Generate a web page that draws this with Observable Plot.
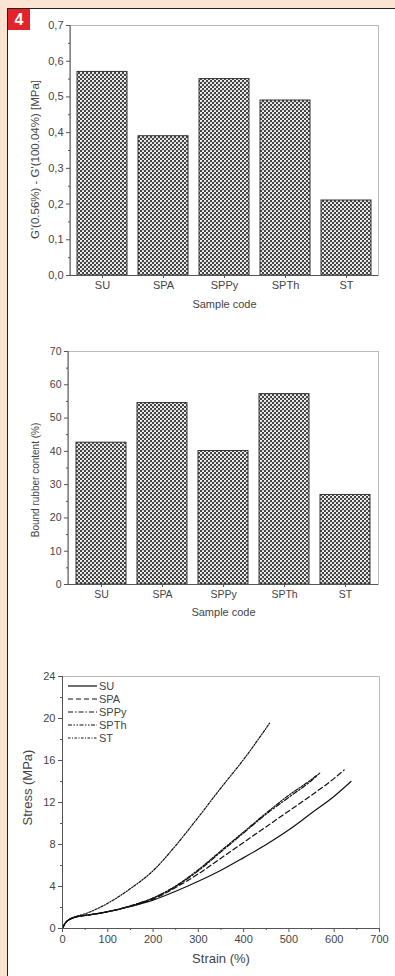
<!DOCTYPE html>
<html><head><meta charset="utf-8">
<script src="https://cdn.jsdelivr.net/npm/d3@7"></script>
<script src="https://cdn.jsdelivr.net/npm/@observablehq/plot@0.6"></script>
<style>
html,body{margin:0;padding:0;}
body{width:395px;height:976px;background:#fce4d2;position:relative;overflow:hidden;font-family:"Liberation Sans",Arial,sans-serif;}
#panel{position:absolute;left:7px;top:8px;right:0;bottom:0;background:#fff;border-top:1.5px solid #222;border-left:1.5px solid #222;}
#badge{position:absolute;left:8px;top:9px;width:22px;height:21px;background:#e3232b;color:#fff;font:bold 16px "Liberation Sans",Arial,sans-serif;text-align:center;line-height:21px;}
.chart{position:absolute;left:0;}
#legend{position:absolute;left:0;top:640px;}
</style></head><body>
<div id="panel"></div>
<div id="badge">4</div>
<svg width="0" height="0" style="position:absolute"><defs>
<pattern id="hatch" patternUnits="userSpaceOnUse" width="4" height="4">
<rect width="4" height="4" fill="#444"/>
<circle cx="1" cy="1" r="1.08" fill="#fff"/>
<circle cx="3" cy="3" r="1.08" fill="#fff"/>
</pattern></defs></svg>
<div id="c1" class="chart" style="top:0"></div>
<div id="c2" class="chart" style="top:320px"></div>
<div id="c3" class="chart" style="top:640px"></div>
<svg id="legend" width="200" height="120"></svg>
<script>
// ---------- data ----------
const categories = ["SU", "SPA", "SPPy", "SPTh", "ST"];
const modulusDrop = [0.57, 0.39, 0.55, 0.49, 0.21];
const boundRubber = [42.6, 54.5, 40.1, 57.2, 26.9];

const y1Ticks = [0, 0.1, 0.2, 0.3, 0.4, 0.5, 0.6, 0.7];
const y1Minor = [0.05, 0.15, 0.25, 0.35, 0.45, 0.55, 0.65];
const y2Ticks = [0, 10, 20, 30, 40, 50, 60, 70];
const y2Minor = [5, 15, 25, 35, 45, 55, 65];
const x3Ticks = [0, 100, 200, 300, 400, 500, 600, 700];
const x3Minor = [50, 150, 250, 350, 450, 550, 650];
const y3Ticks = [0, 4, 8, 12, 16, 20, 24];
const y3Minor = [2, 6, 10, 14, 18, 22];

const suStrain = [0, 5, 10, 20, 30, 50, 75, 100, 150, 200, 250, 300, 350, 400, 450, 500, 550, 600, 637];
const suStress = [0, 0.45, 0.7, 0.95, 1.1, 1.25, 1.4, 1.6, 2.1, 2.7, 3.55, 4.5, 5.55, 6.75, 8.0, 9.4, 11.0, 12.6, 14.0];
const spaStrain = [0, 5, 10, 20, 30, 50, 75, 100, 150, 200, 250, 300, 350, 400, 450, 500, 550, 600, 622];
const spaStress = [0, 0.45, 0.7, 0.95, 1.1, 1.25, 1.4, 1.6, 2.1, 2.8, 3.9, 5.2, 6.7, 8.2, 9.7, 11.2, 12.7, 14.3, 15.1];
const sppyStrain = [0, 5, 10, 20, 30, 50, 75, 100, 150, 200, 250, 300, 350, 400, 450, 500, 550, 568];
const sppyStress = [0, 0.45, 0.7, 0.95, 1.1, 1.25, 1.4, 1.6, 2.15, 2.9, 4.0, 5.5, 7.3, 9.1, 10.9, 12.5, 14.1, 14.8];
const spthStrain = [0, 5, 10, 20, 30, 50, 75, 100, 150, 200, 250, 300, 350, 400, 450, 500, 550, 562];
const spthStress = [0, 0.45, 0.7, 0.95, 1.1, 1.25, 1.4, 1.6, 2.15, 2.9, 4.05, 5.6, 7.4, 9.2, 11.0, 12.7, 14.2, 14.6];
const stStrain = [0, 5, 10, 20, 30, 50, 75, 100, 150, 200, 250, 300, 350, 400, 458];
const stStress = [0, 0.45, 0.7, 1.0, 1.15, 1.4, 1.85, 2.4, 3.8, 5.5, 7.9, 10.6, 13.4, 16.1, 19.6];

const seriesNames = ["SU", "SPA", "SPPy", "SPTh", "ST"];
const seriesDash = ["none", "5,3", "5,2,1.5,2", "4,1.5,1.5,1.5,1.5,1.5", "2.5,1.5,1,1.5"];

// ---------- build tables ----------
const d1 = categories.map((c, i) => ({cat: c, v: modulusDrop[i]}));
const d2 = categories.map((c, i) => ({cat: c, v: boundRubber[i]}));
const curveSrc = [[suStrain, suStress], [spaStrain, spaStress], [sppyStrain, sppyStress], [spthStrain, spthStress], [stStrain, stStress]];
const curves = curveSrc.map(([xs, ys]) => xs.map((x, i) => ({strain: x, stress: ys[i]})));

const FONT = '"Liberation Sans", Arial, Helvetica, sans-serif';
const baseStyle = {fontFamily: FONT, color: "#444", background: "transparent", overflow: "visible"};

function leftLine(chart) {
  const xs = chart.scale("x").range, ys = chart.scale("y").range;
  const ns = "http://www.w3.org/2000/svg";
  const l = document.createElementNS(ns, "line");
  l.setAttribute("x1", xs[0]); l.setAttribute("x2", xs[0]);
  l.setAttribute("y1", ys[0]); l.setAttribute("y2", ys[1]);
  l.setAttribute("stroke", "#555"); l.setAttribute("stroke-width", 1);
  chart.appendChild(l);
  return chart;
}

function barChart(data, opts) {
  return leftLine(Plot.plot({
    width: 395, height: opts.height,
    marginLeft: opts.ml, marginRight: 17, marginTop: opts.mt, marginBottom: opts.mb,
    style: {...baseStyle, fontSize: opts.tickFont + "px"},
    x: {domain: categories, paddingInner: 0.18, paddingOuter: 0.11},
    y: {domain: opts.domain},
    marks: [
      Plot.barY(data, {x: "cat", y: "v", fill: "url(#hatch)", stroke: "#333", strokeWidth: 1}),
      Plot.frame({stroke: "#bbb"}),
      Plot.ruleY([0], {stroke: "#555"}),
      Plot.axisY({ticks: opts.ticks, tickFormat: opts.fmt, tickSize: 4, tickPadding: 3, label: null, fontSize: opts.tickFont, stroke: "#555"}),
      Plot.axisY({ticks: opts.minor, tickSize: 2, tickFormat: () => "", label: null, stroke: "#555"}),
      Plot.axisX({tickSize: 3, tickPadding: 3, label: null, fontSize: opts.tickFont, stroke: "#555"}),
      Plot.text(["Sample code"], {text: d => d, frameAnchor: "bottom", dy: opts.xdy, fontSize: 11, fill: "#444"}),
      Plot.text([opts.ylabel], {text: d => d, frameAnchor: "left", textAnchor: "middle", dx: opts.ydx, dy: opts.ydy, rotate: -90, fontSize: opts.yFont, fill: "#444"})
    ]
  }));
}

document.getElementById("c1").appendChild(barChart(d1, {
  height: 320, ml: 70, mt: 25, mb: 45, domain: [0, 0.7], ticks: y1Ticks, minor: y1Minor,
  fmt: d => d.toFixed(1).replace(".", ","), tickFont: 11, xdy: 32,
  ylabel: "G'(0.56%) - G'(100.04%) [MPa]", ydx: -35, ydy: 9, yFont: 11.5
}));

document.getElementById("c2").appendChild(barChart(d2, {
  height: 310, ml: 68, mt: 31, mb: 46, domain: [0, 70], ticks: y2Ticks, minor: y2Minor,
  fmt: d => String(d), tickFont: 10.5, xdy: 31,
  ylabel: "Bound rubber content (%)", ydx: -33, ydy: 12, yFont: 10
}));

// ---------- stress-strain ----------
const c3 = Plot.plot({
  width: 395, height: 336,
  marginLeft: 62, marginRight: 16, marginTop: 36, marginBottom: 48,
  style: {...baseStyle, fontSize: "11px"},
  x: {domain: [0, 700]},
  y: {domain: [0, 24]},
  marks: [
    Plot.frame({stroke: "#bbb"}),
    ...curves.map((c, i) => Plot.line(c, {x: "strain", y: "stress", stroke: "#111", strokeWidth: 1.2, strokeDasharray: seriesDash[i], curve: "monotone-x"})),
    Plot.ruleX([0], {stroke: "#555"}),
    Plot.ruleY([0], {stroke: "#555"}),
    Plot.axisY({ticks: y3Ticks, tickSize: 4, tickPadding: 3, label: null, stroke: "#555"}),
    Plot.axisY({ticks: y3Minor, tickSize: 2, tickFormat: () => "", label: null, stroke: "#555"}),
    Plot.axisX({ticks: x3Ticks, tickSize: 4, tickPadding: 3, label: null, stroke: "#555"}),
    Plot.axisX({ticks: x3Minor, tickSize: 2, tickFormat: () => "", label: null, stroke: "#555"}),
    Plot.text(["Strain (%)"], {text: d => d, frameAnchor: "bottom", dy: 34, fontSize: 13, fill: "#444"}),
    Plot.text(["Stress (MPa)"], {text: d => d, frameAnchor: "left", textAnchor: "middle", dx: -35, dy: -15, rotate: -90, fontSize: 13, fill: "#444"})
  ]
});
document.getElementById("c3").appendChild(c3);

// legend
const lg = d3.select("#legend");
seriesNames.forEach((name, i) => {
  const y = 46 + i * 13;
  lg.append("line").attr("x1", 68).attr("x2", 97).attr("y1", y).attr("y2", y)
    .attr("stroke", "#111").attr("stroke-width", 1.2).attr("stroke-dasharray", seriesDash[i]);
  lg.append("text").attr("x", 99).attr("y", y).attr("dy", "0.35em")
    .attr("font-family", FONT).attr("font-size", 11).attr("fill", "#444").text(name);
});
</script>
</body></html>
